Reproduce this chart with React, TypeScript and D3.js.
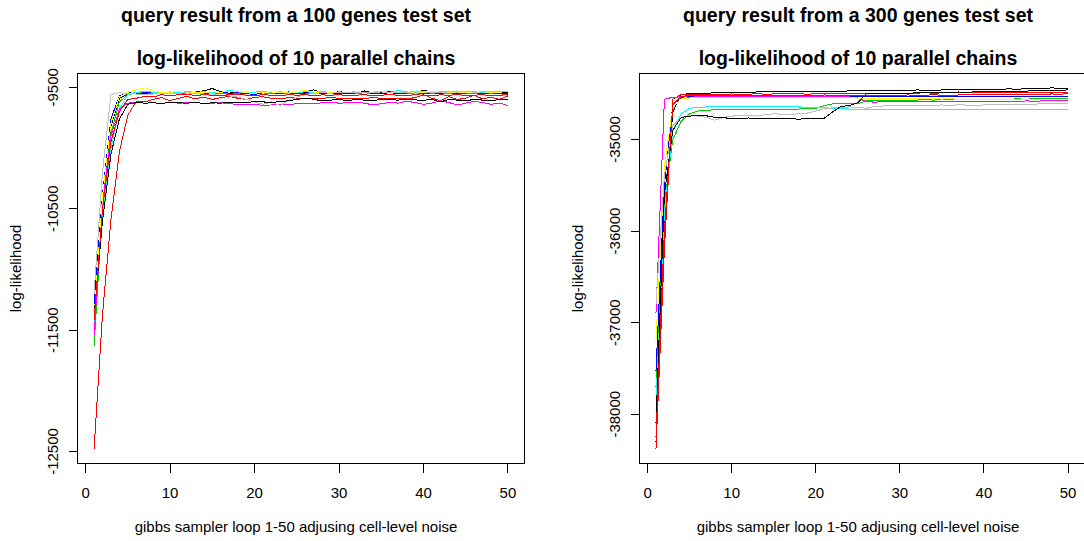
import React from "react";
import * as d3 from "d3";

// Gibbs sampler iterations (1..50)
const iterations = [
  1, 2, 3, 4, 5, 6, 7, 8, 9, 10, 11, 12, 13, 14, 15, 16, 17, 18, 19, 20,
  21, 22, 23, 24, 25, 26, 27, 28, 29, 30, 31, 32, 33, 34, 35, 36, 37, 38, 39, 40,
  41, 42, 43, 44, 45, 46, 47, 48, 49, 50,
];

// Chain colours follow R's classic palette cycled over 10 chains
const chainColors = [
  "#000000", "#FF0000", "#00CD00", "#0000FF", "#00FFFF",
  "#FF00FF", "#FFFF00", "#BEBEBE", "#000000", "#FF0000",
];

const xTicks = [0, 10, 20, 30, 40, 50];
const yTicks100 = [-12500, -11500, -10500, -9500];
const yTicks300 = [-38000, -37000, -36000, -35000];

// ---- 100 genes test set: log-likelihood of each chain ----
const g100Black1 = [-11350,-10420,-9820,-9590,-9555,-9548,-9552,-9545,-9550,-9547,-9553,-9546,-9540,-9528,-9510,-9535,-9548,-9530,-9545,-9552,-9540,-9544,-9550,-9538,-9547,-9540,-9520,-9545,-9548,-9536,-9542,-9550,-9530,-9545,-9540,-9532,-9546,-9538,-9543,-9524,-9540,-9545,-9536,-9533,-9541,-9548,-9539,-9544,-9537,-9542];
const g100Red1 = [-12480,-11370,-10590,-10030,-9730,-9615,-9620,-9600,-9585,-9610,-9590,-9575,-9595,-9580,-9600,-9585,-9575,-9590,-9600,-9582,-9578,-9590,-9595,-9585,-9588,-9590,-9596,-9590,-9585,-9590,-9592,-9588,-9590,-9586,-9589,-9591,-9588,-9590,-9587,-9560,-9590,-9610,-9575,-9600,-9590,-9565,-9595,-9580,-9600,-9570];
const g100Green = [-11630,-10480,-9880,-9620,-9560,-9548,-9545,-9550,-9542,-9548,-9555,-9546,-9550,-9560,-9545,-9550,-9548,-9553,-9545,-9550,-9556,-9548,-9545,-9550,-9552,-9547,-9550,-9545,-9549,-9553,-9547,-9551,-9545,-9550,-9548,-9544,-9550,-9552,-9546,-9550,-9548,-9545,-9551,-9549,-9547,-9550,-9545,-9548,-9552,-9547];
const g100Blue = [-11300,-10380,-9760,-9570,-9545,-9550,-9545,-9540,-9548,-9545,-9550,-9543,-9547,-9552,-9545,-9540,-9548,-9545,-9550,-9560,-9545,-9542,-9548,-9545,-9550,-9547,-9543,-9549,-9545,-9550,-9553,-9546,-9544,-9548,-9551,-9545,-9549,-9547,-9543,-9550,-9546,-9548,-9544,-9551,-9547,-9545,-9549,-9546,-9550,-9548];
const g100Cyan = [-11450,-10550,-10000,-9680,-9560,-9540,-9535,-9540,-9545,-9538,-9542,-9536,-9540,-9537,-9543,-9540,-9525,-9538,-9542,-9539,-9536,-9541,-9538,-9540,-9543,-9537,-9540,-9536,-9542,-9538,-9540,-9537,-9541,-9539,-9535,-9540,-9527,-9538,-9541,-9537,-9540,-9538,-9536,-9540,-9538,-9537,-9541,-9536,-9539,-9537];
const g100Magenta = [-11550,-10450,-9900,-9680,-9630,-9625,-9630,-9628,-9632,-9625,-9630,-9628,-9624,-9633,-9630,-9627,-9635,-9640,-9645,-9638,-9650,-9645,-9640,-9642,-9635,-9630,-9632,-9628,-9625,-9630,-9628,-9622,-9630,-9645,-9635,-9625,-9630,-9615,-9625,-9640,-9630,-9610,-9625,-9645,-9630,-9615,-9625,-9640,-9630,-9650];
const g100Yellow = [-11400,-10400,-9800,-9580,-9540,-9520,-9505,-9530,-9545,-9540,-9535,-9545,-9538,-9542,-9550,-9540,-9535,-9530,-9545,-9550,-9540,-9538,-9545,-9547,-9540,-9525,-9540,-9545,-9542,-9540,-9545,-9538,-9540,-9543,-9535,-9540,-9542,-9545,-9538,-9540,-9530,-9545,-9540,-9538,-9542,-9540,-9537,-9543,-9540,-9535];
const g100Gray = [-11200,-10200,-9560,-9545,-9550,-9555,-9560,-9555,-9552,-9550,-9548,-9545,-9550,-9555,-9560,-9565,-9570,-9580,-9600,-9620,-9640,-9620,-9650,-9610,-9580,-9560,-9550,-9545,-9548,-9543,-9546,-9540,-9545,-9543,-9538,-9542,-9545,-9540,-9536,-9538,-9542,-9540,-9538,-9530,-9535,-9540,-9538,-9535,-9537,-9536];
const g100Black2 = [-11380,-10600,-10050,-9760,-9640,-9625,-9630,-9628,-9632,-9625,-9628,-9630,-9626,-9632,-9628,-9630,-9625,-9622,-9628,-9615,-9620,-9625,-9618,-9610,-9600,-9590,-9598,-9612,-9605,-9600,-9610,-9600,-9605,-9608,-9600,-9602,-9605,-9600,-9604,-9606,-9600,-9620,-9600,-9605,-9610,-9600,-9605,-9610,-9600,-9598];
const g100Red2 = [-11420,-10500,-9950,-9700,-9600,-9590,-9575,-9580,-9560,-9570,-9560,-9555,-9570,-9560,-9565,-9570,-9560,-9555,-9565,-9570,-9560,-9565,-9570,-9560,-9565,-9560,-9570,-9562,-9565,-9560,-9568,-9565,-9560,-9570,-9565,-9560,-9565,-9570,-9560,-9565,-9570,-9562,-9565,-9560,-9568,-9565,-9560,-9570,-9565,-9560];

// ---- 300 genes test set: log-likelihood of each chain ----
const g300Black1 = [-38300,-35900,-34700,-34510,-34500,-34498,-34495,-34492,-34490,-34490,-34488,-34485,-34482,-34480,-34478,-34475,-34476,-34478,-34476,-34474,-34472,-34474,-34476,-34470,-34468,-34466,-34470,-34468,-34465,-34462,-34465,-34460,-34462,-34465,-34460,-34458,-34455,-34458,-34452,-34455,-34450,-34452,-34448,-34452,-34446,-34448,-34442,-34438,-34440,-34440];
const g300Red1 = [-38380,-36200,-34560,-34510,-34508,-34510,-34505,-34508,-34506,-34504,-34506,-34505,-34503,-34505,-34504,-34502,-34504,-34503,-34505,-34503,-34502,-34504,-34500,-34498,-34500,-34502,-34500,-34498,-34496,-34500,-34498,-34495,-34490,-34496,-34492,-34488,-34490,-34486,-34490,-34488,-34484,-34488,-34490,-34486,-34490,-34488,-34485,-34490,-34488,-34486];
const g300Green = [-37700,-35700,-35000,-34800,-34720,-34690,-34680,-34678,-34675,-34676,-34674,-34675,-34673,-34676,-34674,-34672,-34670,-34668,-34666,-34660,-34630,-34612,-34610,-34608,-34610,-34580,-34575,-34572,-34574,-34570,-34572,-34570,-34568,-34570,-34568,-34566,-34568,-34565,-34567,-34564,-34566,-34563,-34560,-34558,-34560,-34557,-34556,-34558,-34555,-34555];
const g300Blue = [-37530,-35500,-34620,-34540,-34530,-34528,-34532,-34530,-34526,-34530,-34532,-34528,-34530,-34534,-34530,-34527,-34530,-34528,-34525,-34528,-34530,-34527,-34528,-34526,-34529,-34530,-34528,-34530,-34527,-34526,-34528,-34530,-34527,-34529,-34530,-34526,-34528,-34530,-34527,-34529,-34528,-34526,-34530,-34527,-34528,-34526,-34529,-34527,-34528,-34527];
const g300Cyan = [-37860,-35800,-34900,-34720,-34660,-34650,-34645,-34642,-34640,-34642,-34638,-34640,-34642,-34640,-34643,-34640,-34642,-34645,-34648,-34650,-34655,-34660,-34665,-34668,-34670,-34672,-34675,-34676,-34675,-34674,-34676,-34675,-34674,-34676,-34678,-34676,-34675,-34674,-34676,-34678,-34676,-34675,-34674,-34676,-34675,-34674,-34673,-34675,-34676,-34674];
const g300Magenta = [-36900,-34560,-34540,-34535,-34538,-34536,-34534,-34537,-34535,-34533,-34536,-34534,-34537,-34535,-34536,-34534,-34537,-34535,-34536,-34533,-34535,-34537,-34534,-34536,-34545,-34590,-34592,-34590,-34588,-34590,-34587,-34588,-34590,-34586,-34588,-34585,-34587,-34584,-34586,-34585,-34583,-34585,-34582,-34584,-34580,-34582,-34580,-34578,-34576,-34575];
const g300Yellow = [-37200,-35300,-34650,-34560,-34548,-34545,-34547,-34544,-34546,-34545,-34543,-34546,-34544,-34545,-34547,-34544,-34546,-34545,-34543,-34546,-34547,-34545,-34544,-34546,-34548,-34552,-34554,-34556,-34555,-34557,-34556,-34558,-34556,-34557,-34559,-34558,-34560,-34559,-34561,-34560,-34562,-34561,-34560,-34562,-34563,-34562,-34564,-34563,-34565,-34565];
const g300Gray = [-36800,-35400,-34850,-34760,-34740,-34745,-34760,-34790,-34760,-34745,-34742,-34740,-34745,-34730,-34720,-34725,-34730,-34718,-34712,-34690,-34665,-34655,-34650,-34645,-34648,-34660,-34640,-34635,-34630,-34632,-34628,-34625,-34630,-34626,-34624,-34628,-34622,-34625,-34628,-34624,-34622,-34620,-34618,-34620,-34616,-34614,-34612,-34613,-34610,-34610];
const g300Black2 = [-38100,-35600,-34900,-34760,-34745,-34740,-34742,-34760,-34765,-34768,-34770,-34766,-34768,-34770,-34775,-34772,-34775,-34778,-34775,-34772,-34770,-34700,-34640,-34630,-34600,-34500,-34498,-34500,-34495,-34498,-34495,-34492,-34490,-34488,-34490,-34485,-34482,-34486,-34480,-34478,-34480,-34476,-34478,-34475,-34472,-34470,-34468,-34465,-34462,-34460];
const g300Red2 = [-38250,-36000,-34620,-34530,-34520,-34522,-34518,-34520,-34522,-34516,-34518,-34520,-34515,-34518,-34520,-34522,-34518,-34516,-34520,-34518,-34515,-34517,-34520,-34518,-34516,-34518,-34522,-34520,-34518,-34516,-34515,-34518,-34516,-34514,-34516,-34518,-34515,-34512,-34514,-34510,-34512,-34508,-34510,-34506,-34508,-34505,-34506,-34504,-34505,-34503];

const chains100 = [g100Black1, g100Red1, g100Green, g100Blue, g100Cyan, g100Magenta, g100Yellow, g100Gray, g100Black2, g100Red2];
const chains300 = [g300Black1, g300Red1, g300Green, g300Blue, g300Cyan, g300Magenta, g300Yellow, g300Gray, g300Black2, g300Red2];

const FONT = "'Liberation Sans', Arial, Helvetica, sans-serif";

type Box = { left: number; right: number; top: number; bottom: number };

function Panel({ box, chains, yTicks, title, textCx }: { box: Box; chains: number[][]; yTicks: number[]; title: string; textCx: number }) {
  // R-style 4% padding on both axes
  const xPad = (iterations[iterations.length - 1] - iterations[0]) * 0.04;
  const x = d3.scaleLinear()
    .domain([iterations[0] - xPad, iterations[iterations.length - 1] + xPad])
    .range([box.left, box.right]);
  const [mn, mx] = d3.extent(chains.flat()) as [number, number];
  const yPad = (mx - mn) * 0.04;
  const y = d3.scaleLinear().domain([mn - yPad, mx + yPad]).range([box.bottom, box.top]);
  const line = d3.line<number>().x((_, i) => x(iterations[i])).y((d) => y(d));
  const cy = (box.top + box.bottom) / 2;
  const tick = 9;

  return (
    <g>
      <text x={textCx} y={22} textAnchor="middle" fontFamily={FONT} fontWeight="bold" fontSize={19.5}>{title}</text>
      <text x={textCx} y={65} textAnchor="middle" fontFamily={FONT} fontWeight="bold" fontSize={19.5}>log-likelihood of 10 parallel chains</text>

      <g style={{ shapeRendering: "crispEdges" }}>
        {chains.map((c, k) => (
          <path key={k} d={line(c) ?? ""} fill="none" stroke={chainColors[k]} strokeWidth={1} />
        ))}
      </g>

      <rect x={box.left} y={box.top} width={box.right - box.left} height={box.bottom - box.top}
        fill="none" stroke="#000" strokeWidth={1} style={{ shapeRendering: "crispEdges" }} />

      {/* tick marks */}
      <g style={{ shapeRendering: "crispEdges" }}>
        {xTicks.map((t) => (
          <line key={t} x1={x(t)} x2={x(t)} y1={box.bottom} y2={box.bottom + tick} stroke="#000" />
        ))}
        {yTicks.map((t) => (
          <line key={t} x1={box.left - tick} x2={box.left} y1={y(t)} y2={y(t)} stroke="#000" />
        ))}
      </g>
      {xTicks.map((t) => (
        <text key={t} x={x(t)} y={498} textAnchor="middle" fontFamily={FONT} fontSize={15}>{t}</text>
      ))}
      {yTicks.map((t) => (
        <text key={t} transform={`translate(${box.left - 20},${y(t)}) rotate(-90)`} textAnchor="middle"
          fontFamily={FONT} fontSize={15}>{t}</text>
      ))}
      <text x={textCx} y={532} textAnchor="middle" fontFamily={FONT} fontSize={15}>gibbs sampler loop 1-50 adjusing cell-level noise</text>
      <text transform={`translate(${box.left - 57},${cy}) rotate(-90)`} textAnchor="middle" fontFamily={FONT} fontSize={15}>log-likelihood</text>
    </g>
  );
}

export default function App() {
  return (
    <svg width={1084} height={541} style={{ position: "absolute", left: 0, top: 0, background: "#fff" }}>
      <rect width={1084} height={541} fill="#fff" />
      <Panel box={{ left: 77.5, right: 524.5, top: 73.5, bottom: 463.5 }} chains={chains100} yTicks={yTicks100}
        title="query result from a 100 genes test set" textCx={296} />
      <Panel box={{ left: 639.5, right: 1084.5, top: 73.5, bottom: 463.5 }} chains={chains300} yTicks={yTicks300}
        title="query result from a 300 genes test set" textCx={858} />
    </svg>
  );
}
